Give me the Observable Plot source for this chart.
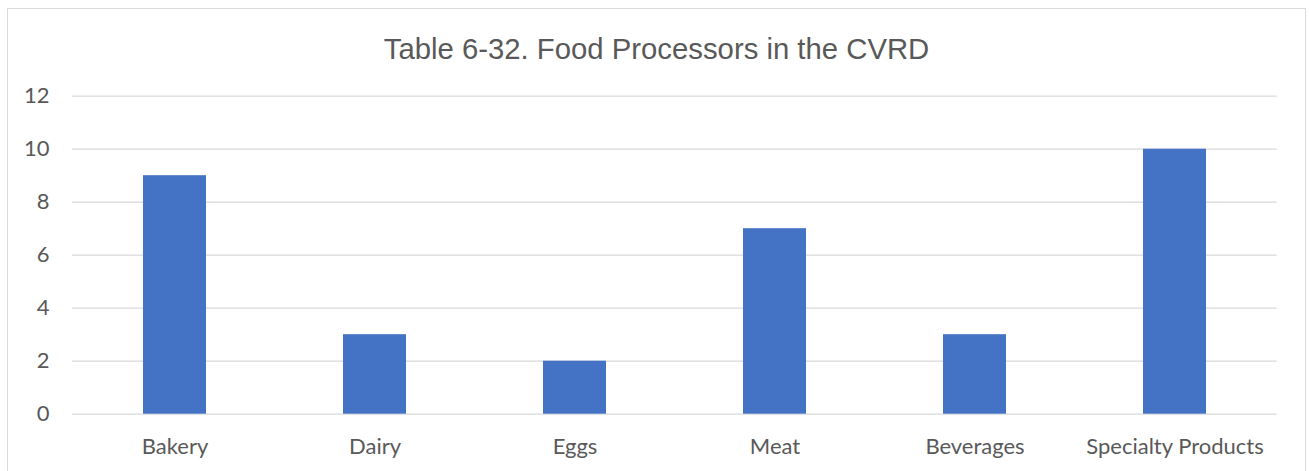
<!DOCTYPE html>
<html><head><meta charset="utf-8">
<script src="https://cdn.jsdelivr.net/npm/d3@7"></script>
<script src="https://cdn.jsdelivr.net/npm/@observablehq/plot@0.6"></script>
<style>
body{margin:0;background:#fff;width:1309px;height:471px;overflow:hidden;position:relative;font-family:Lato,sans-serif}
#frame{position:absolute;left:7px;top:8px;width:1299px;height:520px;border:1.5px solid #d9d9d9;box-sizing:border-box}
#title{position:absolute;left:2px;top:33.5px;width:1309px;text-align:center;font-family:"Liberation Sans",Arial,sans-serif;font-size:29.3px;line-height:29px;color:#595959;white-space:nowrap}
#chart{position:absolute;left:0;top:70px}
</style></head>
<body>
<div id="frame"></div>
<div id="title">Table 6-32. Food Processors in the CVRD</div>
<div id="chart"></div>
<script>
const categories = ["Bakery", "Dairy", "Eggs", "Meat", "Beverages", "Specialty Products"];
const counts = [9, 3, 2, 7, 3, 10];
const yTicks = [0, 2, 4, 6, 8, 10, 12];
const data = categories.map((c, i) => ({category: c, count: counts[i]}));

const chart = Plot.plot({
  width: 1309,
  height: 401,
  marginTop: 25.7,
  marginBottom: 57.3,
  marginLeft: 72,
  marginRight: 32.3,
  x: {domain: categories, paddingInner: 0.686, paddingOuter: 0.343, label: null},
  y: {domain: [0, 12], label: null},
  style: {fontSize: "22px", fontFamily: "Lato, sans-serif", color: "#595959", background: "transparent", overflow: "visible"},
  marks: [
    Plot.ruleY(yTicks, {stroke: "#d9d9d9", strokeWidth: 1.3}),
    Plot.barY(data, {x: "category", y: "count", fill: "#4472c4"}),
    Plot.axisX({tickSize: 0, tickPadding: 24, label: null}),
    Plot.axisY({ticks: yTicks, tickSize: 0, tickPadding: 23, label: null})
  ]
});
document.getElementById("chart").appendChild(chart);
</script>
</body></html>
